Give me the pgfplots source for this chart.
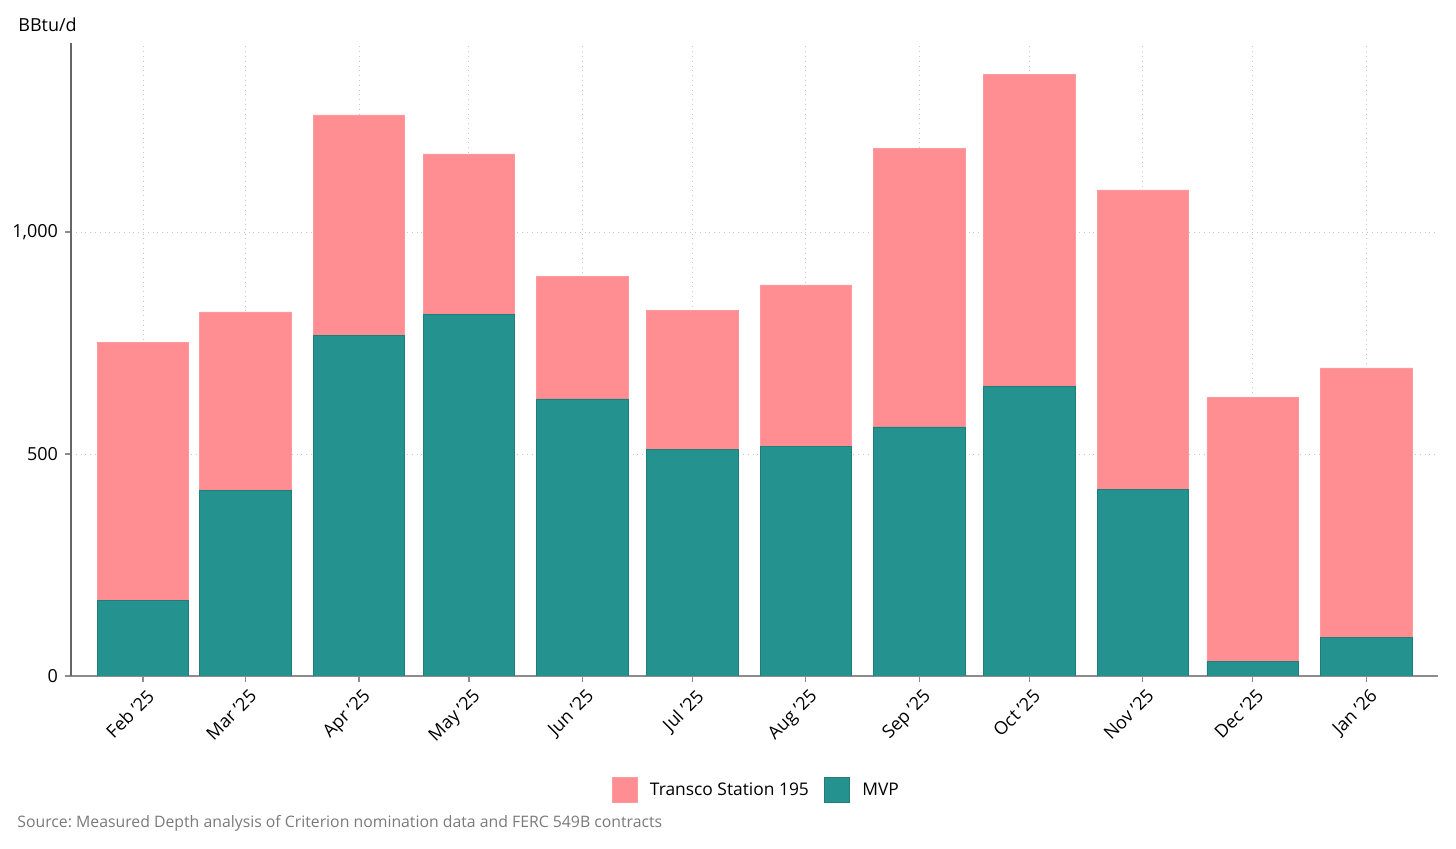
\documentclass[border=0pt]{standalone}
\usepackage{fontspec}
\setmainfont{Open Sans}
\usepackage{pgfplots}
\pgfplotsset{compat=1.18}
\definecolor{teal1}{HTML}{24938F}
\definecolor{pink1}{HTML}{FF8E92}
\definecolor{srcgray}{HTML}{7A7A7A}
\frenchspacing
\begin{document}
\begin{tikzpicture}[font=\fontsize{9}{11}\selectfont]
\useasboundingbox (-35.5pt,-86.5pt) rectangle (692.5pt,338pt);
\begin{axis}[
  at={(0,0)}, anchor=south west,
  scale only axis, width=683.5pt, height=316.5pt,
  ybar stacked, bar width=25,
  xmin=-19.66, xmax=353.6, ymin=0, ymax=1426,
  axis x line*=bottom, axis y line*=left,
  x axis line style={draw=black!45, line width=0.8pt, -},
  y axis line style={draw=black!60, line width=0.8pt, -},
  xtick={0,28,59,89,120,150,181,212,242,273,303,334},
  xticklabels={Feb '25,Mar '25,Apr '25,May '25,Jun '25,Jul '25,Aug '25,Sep '25,Oct '25,Nov '25,Dec '25,Jan '26},
  x tick label style={rotate=45, anchor=north east, inner sep=1pt, yshift=-2pt},
  ytick={0,500,1000},
  /pgf/number format/.cd, 1000 sep={,}, assume math mode=true, /pgfplots/.cd,
  tick style={draw=black!45, line width=0.6pt},
  tick align=outside, major tick length=3pt,
  xmajorgrids, ymajorgrids,
  major grid style={draw=black!22, dotted, line width=0.5pt},
  legend style={at={(0.502,-0.18)}, anchor=center, draw=none, legend columns=2,
    /tikz/every even column/.append style={column sep=5.5pt}, font=\fontsize{8.7}{11}\selectfont},
  legend image code/.code={\draw[#1] (0pt,-6pt) rectangle (12.5pt,6.5pt); \path[draw=none,fill=none] (12.5pt,0pt) -- (17pt,0pt);},
  reverse legend,
]
\addplot[fill=teal1, draw=teal1!85!black, line width=0.4pt] coordinates {
(0,171) (28,417) (59,768) (89,815) (120,624) (150,511) (181,518) (212,561) (242,653) (273,421) (303,32) (334,86)};
\addlegendentry{MVP}
\addplot[fill=pink1, draw=pink1!90!white, line width=0.4pt] coordinates {
(0,581) (28,403) (59,496) (89,361) (120,277) (150,313) (181,363) (212,628) (242,703) (273,674) (303,596) (334,608)};
\addlegendentry{Transco Station 195}
\end{axis}
\node[anchor=west, inner sep=0pt] at (-26.5pt,325.5pt) {BBtu/d};
\node[anchor=west, inner sep=0pt, text=srcgray, font=\fontsize{7.9}{10}\selectfont] at (-27pt,-73.5pt) {Source: Measured Depth analysis of Criterion nomination data and FERC 549B contracts};
\end{tikzpicture}
\end{document}
